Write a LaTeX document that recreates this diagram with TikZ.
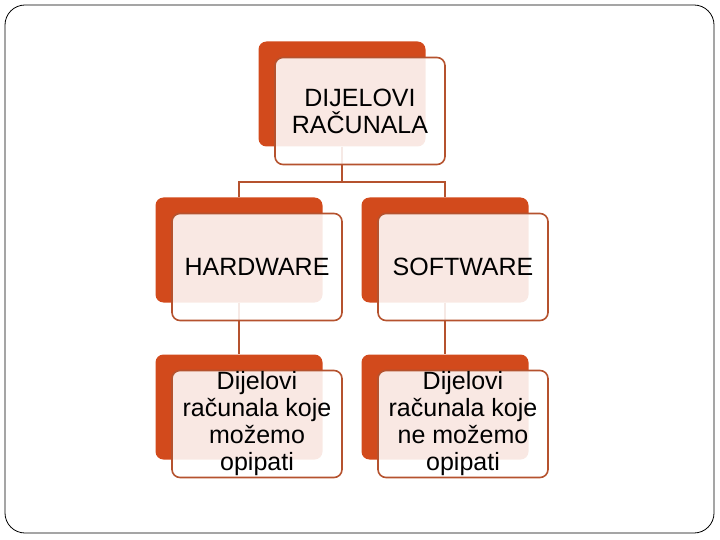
\documentclass[tikz,border=0pt]{standalone}
\usepackage{fontspec}
\setmainfont{Liberation Sans}
\definecolor{rust}{HTML}{D24A1C}
\definecolor{rustline}{HTML}{B5522E}

\begin{document}
\begin{tikzpicture}[x=1pt, y=-1pt,
		back/.style={minimum width=167pt, minimum height=105pt, inner sep=0pt, rounded corners=8pt, fill=rust},
		front/.style={minimum width=170pt, minimum height=107pt, inner sep=0pt, rounded corners=8pt, draw=rustline, line width=1.6pt, fill=white, fill opacity=0.88, text opacity=1, align=center, font=\fontsize{25}{27}\selectfont},
		link/.style={draw=rustline, line width=1.8pt}]
		\useasboundingbox (0,0) rectangle (720,540);
		\draw[line width=0.8pt, rounded corners=20pt] (5,5) rectangle (714,533);

		\draw (342,94) node[back] (topb) {};
		\draw (239,250) node[back] (hwb) {};
		\draw (445,250) node[back] (swb) {};
		\draw (239,407) node[back] (hwdb) {};
		\draw (445,407) node[back] (swdb) {};

		\coordinate (split) at (342,182);
		\draw [link] (topb.south) -- (split) -| (hwb.north);
		\draw [link] (split) -| (swb.north);
		\draw [link] (hwb.south) -- (hwdb.north);
		\draw [link] (swb.south) -- (swdb.north);

		\draw (360,111) node[front] (top) {DIJELOVI\\RAČUNALA};
		\draw (257,267) node[front] (hw) {HARDWARE};
		\draw (463,267) node[front] (sw) {SOFTWARE};
		\draw (257,424) node[front] (hwd) {Dijelovi\\računala koje\\možemo\\opipati};
		\draw (463,424) node[front] (swd) {Dijelovi\\računala koje\\ne možemo\\opipati};
	\end{tikzpicture}
\end{document}
